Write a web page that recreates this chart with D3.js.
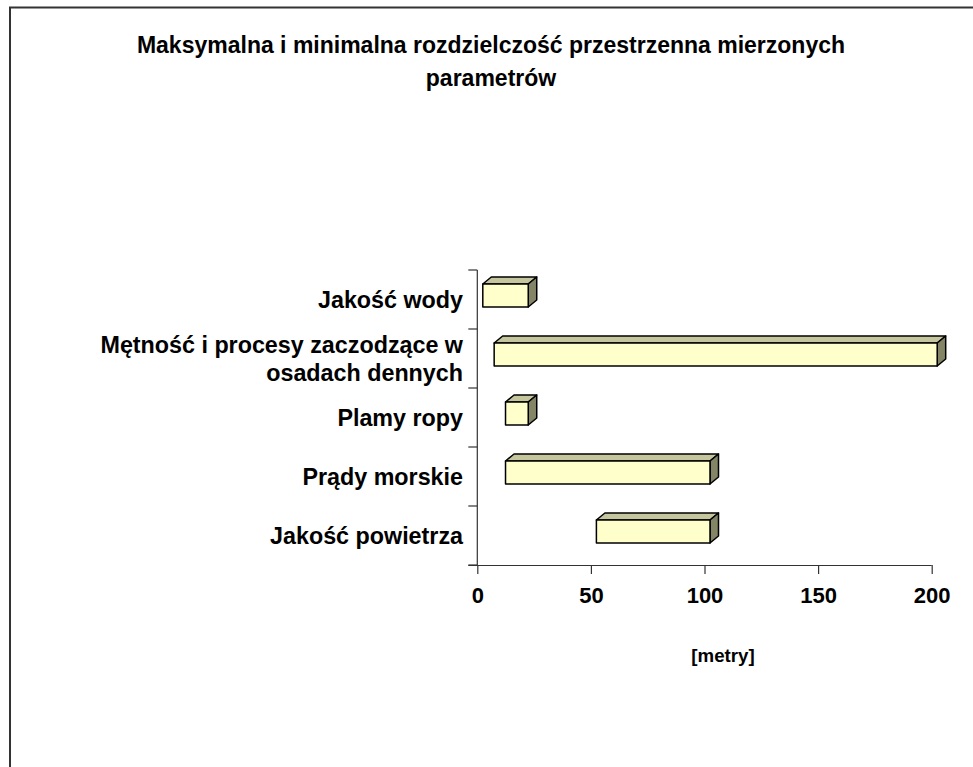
<!DOCTYPE html>
<html>
<head>
<meta charset="utf-8">
<script src="https://cdn.jsdelivr.net/npm/d3@7"></script>
<style>
  html, body { margin: 0; padding: 0; background: #fff; }
  svg { display: block; }
  text { font-family: "Liberation Sans", Arial, sans-serif; font-weight: bold; fill: #000; }
</style>
</head>
<body>
<svg id="chart" width="973" height="767"></svg>
<script>
// ---- data ----
const titleLines = ["Maksymalna i minimalna rozdzielczość przestrzenna mierzonych", "parametrów"];
const categories = ["Jakość wody", "Mętność i procesy zaczodzące w osadach dennych", "Plamy ropy", "Prądy morskie", "Jakość powietrza"];
const categoryLines = [["Jakość wody"], ["Mętność i procesy zaczodzące w", "osadach dennych"], ["Plamy ropy"], ["Prądy morskie"], ["Jakość powietrza"]];
const minValues = [0, 5, 10, 10, 50];
const maxValues = [20, 200, 20, 100, 100];
const xTicks = [0, 50, 100, 150, 200];
const xAxisTitle = "[metry]";

// ---- layout ----
const svg = d3.select("#chart");
const W = 973, H = 767;
const plot = { left: 477.3, right: 931.7, top: 270, bottom: 565 };
const depthX = 8.5, depthY = 7, barShift = 5.5;

// frame (top & left edges visible, rest runs off the picture)
svg.append("path")
  .attr("d", `M10,${H} L10,7.5 L${W},7.5`)
  .attr("fill", "none").attr("stroke", "#333").attr("stroke-width", 2);

// title
svg.append("g").selectAll("text").data(titleLines).join("text")
  .attr("x", 491).attr("y", (d, i) => 53 + i * 33)
  .attr("text-anchor", "middle").style("font-size", "23px")
  .text(d => d);

const x = d3.scaleLinear().domain([0, 200]).range([plot.left, plot.right]);
const y = d3.scaleBand().domain(categories).range([plot.top, plot.bottom]).padding(0);
const bw = y.bandwidth();

// axes
const axisColor = "#333";
svg.append("line").attr("x1", plot.left).attr("x2", plot.left)
  .attr("y1", plot.top).attr("y2", plot.bottom).attr("stroke", axisColor).attr("stroke-width", 1.2);
const boundaries = categories.map(c => y(c)).concat([plot.bottom]);
svg.append("g").selectAll("line").data(boundaries).join("line")
  .attr("x1", plot.left - 9).attr("x2", plot.left)
  .attr("y1", d => d).attr("y2", d => d)
  .attr("stroke", axisColor).attr("stroke-width", 1.2);

const xAxis = d3.axisBottom(x).tickValues(xTicks).tickSize(9).tickPadding(7).tickSizeOuter(0);
const gx = svg.append("g").attr("transform", `translate(0,${plot.bottom})`).call(xAxis);
gx.select(".domain").attr("stroke", axisColor).attr("stroke-width", 1.2)
  .attr("d", `M${plot.left - 9},0.5H${plot.right}`);
gx.selectAll(".tick line").attr("stroke", axisColor).attr("stroke-width", 1.2);
gx.selectAll(".tick text")
  .style("font-family", "'Liberation Sans', Arial, sans-serif")
  .style("font-weight", "bold").style("font-size", "22px").attr("fill", "#000")
  .attr("dy", null).attr("y", 38);

// x axis title
svg.append("text").attr("x", 723).attr("y", 662).attr("text-anchor", "middle")
  .style("font-size", "18.7px").text(xAxisTitle);

// category labels
const lg = svg.append("g");
categories.forEach((c, i) => {
  const lines = categoryLines[i];
  const cy = y(c) + bw / 2 + 8.5;
  const lh = 28.7;
  lines.forEach((ln, j) => {
    lg.append("text")
      .attr("x", 463)
      .attr("y", cy + (j - (lines.length - 1) / 2) * lh)
      .attr("text-anchor", "end").style("font-size", "23.3px")
      .text(ln);
  });
});

// 3D floating bars
const barData = categories.map((c, i) => ({ c, lo: minValues[i], hi: maxValues[i] }));
const bars = svg.append("g").selectAll("g").data(barData).join("g");
const fy = d => y(d.c) + bw * 0.237;
const fh = bw * 0.39;
const x0 = d => x(d.lo) + barShift;
const x1 = d => x(d.hi) + barShift;
const strokeAttrs = sel => sel.attr("stroke", "#000").attr("stroke-width", 1.5).attr("stroke-linejoin", "round");

bars.append("path")
  .attr("d", d => `M${x0(d)},${fy(d)} L${x0(d) + depthX},${fy(d) - depthY} L${x1(d) + depthX},${fy(d) - depthY} L${x1(d)},${fy(d)} Z`)
  .attr("fill", "#C6C69E").call(strokeAttrs);
bars.append("path")
  .attr("d", d => `M${x1(d)},${fy(d)} L${x1(d) + depthX},${fy(d) - depthY} L${x1(d) + depthX},${fy(d) + fh - depthY} L${x1(d)},${fy(d) + fh} Z`)
  .attr("fill", "#848466").call(strokeAttrs);
bars.append("rect")
  .attr("x", d => x0(d)).attr("y", d => fy(d))
  .attr("width", d => x1(d) - x0(d)).attr("height", fh)
  .attr("fill", "#FFFFCC").call(strokeAttrs);
</script>
</body>
</html>
